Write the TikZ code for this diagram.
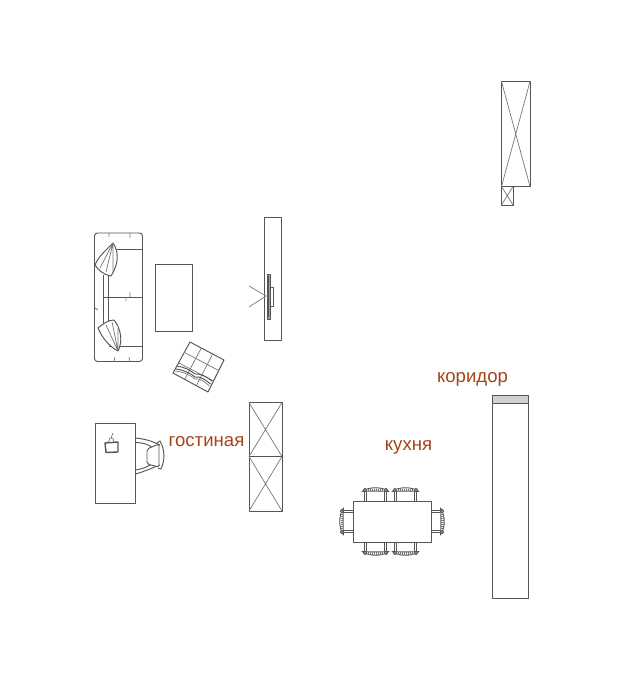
\documentclass[tikz,border=0pt]{standalone}
\usepackage{fontspec}
\setmainfont{Liberation Sans}
\usepackage{xcolor}
\definecolor{fpline}{RGB}{85,85,85}
\definecolor{fpband}{RGB}{208,210,208}
\definecolor{fplabel}{RGB}{165,67,26}
\tikzstyle{furn} = [draw=fpline, line width=0.95pt, line join=round]
\tikzstyle{fine} = [draw=fpline!80, line width=0.7pt, line join=round]
\tikzstyle{roomlabel} = [text=fplabel, font=\fontsize{18.6}{20}\selectfont, inner sep=0pt]
\tikzset{
  dinechair/.pic={
    \draw[furn] (-11,0) -- (-11,-9) (-9,0) -- (-9,-9);
    \draw[furn] (11,0) -- (11,-9) (9,0) -- (9,-9);
    \draw[furn, fill=white] (-13.5,-9.5) .. controls (-6,-14.5) and (6,-14.5) .. (13.5,-9.5)
      .. controls (6,-10) and (-6,-10) .. cycle;
    \foreach \tick in {-7,-5,-3,-1,1,3,5,7}
      \draw[fine] (\tick,-10) -- (\tick,-12.5);
    \draw[furn, fill=white] (-10.5,-11) circle (1.6) (10.5,-11) circle (1.6);
  }
}
\begin{document}
\begin{tikzpicture}[x=1pt, y=-1pt]
    \useasboundingbox (0,0) rectangle (622,700);

    % Closet, top right
    \draw[furn] (501.5,81.5) rectangle (530,186.5);
    \draw[fine] (501.5,81.5) -- (530,186.5) (530,81.5) -- (501.5,186.5);
    \draw[furn] (501.5,186.5) rectangle (513,205);
    \draw[fine] (501.5,186.5) -- (513,205) (513,186.5) -- (501.5,205);

    % TV cabinet
    \draw[furn] (264,217.5) rectangle (281.5,340.5);
    \draw[fine] (249,286) -- (266,296) -- (249,307);
    \draw[furn, fill=fpline!55] (267,274) rectangle (270.5,319);
    \draw[furn, line width=1.4pt] (268,276) -- (268,317);
    \draw[furn, fill=white] (270.5,287) rectangle (273.5,306);

    % Sofa
    \draw[furn, rounded corners=3pt] (94.5,233) rectangle (142.5,361.5);
    \draw[furn] (109,249) -- (142.5,249) (103,297) -- (142.5,297) (109,346) -- (142.5,346);
    \draw[furn] (103,275) -- (103,325) (108,275) -- (108,325);
    \draw[fine] (109,233) -- (109,237) (130,233) -- (130,238) (130,292) -- (130,297)
      (126,297) -- (126,301) (115,357) -- (114,361.5) (129,357) -- (130,361.5) (95,308) -- (98,310);
    % Sofa pillows
    \draw[furn, fill=white] (113,243) .. controls (118,250) and (120,262) .. (111,276)
      .. controls (104,275) and (98,270) .. (95,265) .. controls (98,257) and (106,250) .. (113,243) -- cycle;
    \draw[fine] (113,243) -- (106,272) (113,243) -- (100,268) (113,243) -- (113,272);
    \draw[furn, fill=white] (98,328) .. controls (104,323) and (109,320) .. (114,320)
      .. controls (121,328) and (123,342) .. (118,351) .. controls (110,347) and (102,338) .. (98,328) -- cycle;
    \draw[fine] (118,351) -- (106,325) (118,351) -- (112,322) (118,351) -- (118,328);

    % Rug
    \draw[furn] (155,264.5) rectangle (192,331);

    % Ottoman
    \draw[furn, fill=white] (190,342) -- (224,360) -- (208,392) -- (173,373) -- cycle;
    \draw[fine] (201.3,348) -- (184.7,379.3) (212.7,354) -- (196.3,385.7);
    \draw[fine] (184.5,352.5) -- (218.7,370.5) (179,363) -- (213.5,381);
    \draw[furn] (177,366) .. controls (184,367) and (190,370) .. (195,374)
      .. controls (200,373) and (207,377) .. (212,381);
    \draw[furn] (175.5,369) .. controls (184,370) and (190,373) .. (195,377)
      .. controls (200,376) and (206,380) .. (210.5,384);
    \draw[fine] (174.5,371) .. controls (184,372) and (190,375) .. (195,379)
      .. controls (200,378) and (205,382) .. (209.5,386);

    % Desk and desk chair
    \draw[furn] (95.5,423) rectangle (135.5,503);
    \draw[furn, line width=1.4pt] (105,443) -- (118,442) -- (118,452) -- (106,452.5) -- cycle;
    \draw[fine] (108,443) -- (110,438) -- (113,438.5) -- (114,442) (111,438) -- (113,433);
    \draw[furn] (135.5,438) .. controls (145,439) and (152,441) .. (160,445);
    \draw[furn] (135.5,442.5) .. controls (142,442.5) and (148,444) .. (153,448);
    \draw[furn] (135.5,474) .. controls (143,472) and (152,468) .. (160,465);
    \draw[furn] (135.5,470) .. controls (142,469) and (148,467) .. (153,463);
    \draw[furn, fill=white, rounded corners=2pt] (147,449) -- (159,444) -- (159,467) -- (147,464) -- cycle;
    \draw[furn] (160,441) .. controls (165,450) and (165,460) .. (161,469);
    \draw[furn] (157,443) -- (160,441) (158,468) -- (161,469);

    % Wardrobe
    \draw[furn] (249,402.5) rectangle (282,511);
    \draw[furn] (249,456.5) -- (282,456.5);
    \draw[fine] (249,402.5) -- (282,456.5) (282,402.5) -- (249,456.5);
    \draw[fine] (249,456.5) -- (282,511) (282,456.5) -- (249,511);

    % Dining table
    \draw[furn] (353,501) rectangle (431,542);
    \path (375.5,501) pic {dinechair};
    \path (405.5,501) pic {dinechair};
    \path (375.5,542) pic[rotate=180] {dinechair};
    \path (405.5,542) pic[rotate=180] {dinechair};
    \path (353,521.5) pic[rotate=90] {dinechair};
    \path (431,521.5) pic[rotate=-90] {dinechair};

    % Corridor cabinet
    \draw[furn] (492,395) rectangle (528.5,598);
    \draw[furn, fill=fpband] (492,395) rectangle (528.5,403);

    % Room labels
    \node[roomlabel] (livingroom) at (206.5,442) {гостиная};
    \node[roomlabel] (kitchen) at (408.5,448) {кухня};
    \node[roomlabel] (corridor) at (472.5,379) {коридор};
\end{tikzpicture}
\end{document}
